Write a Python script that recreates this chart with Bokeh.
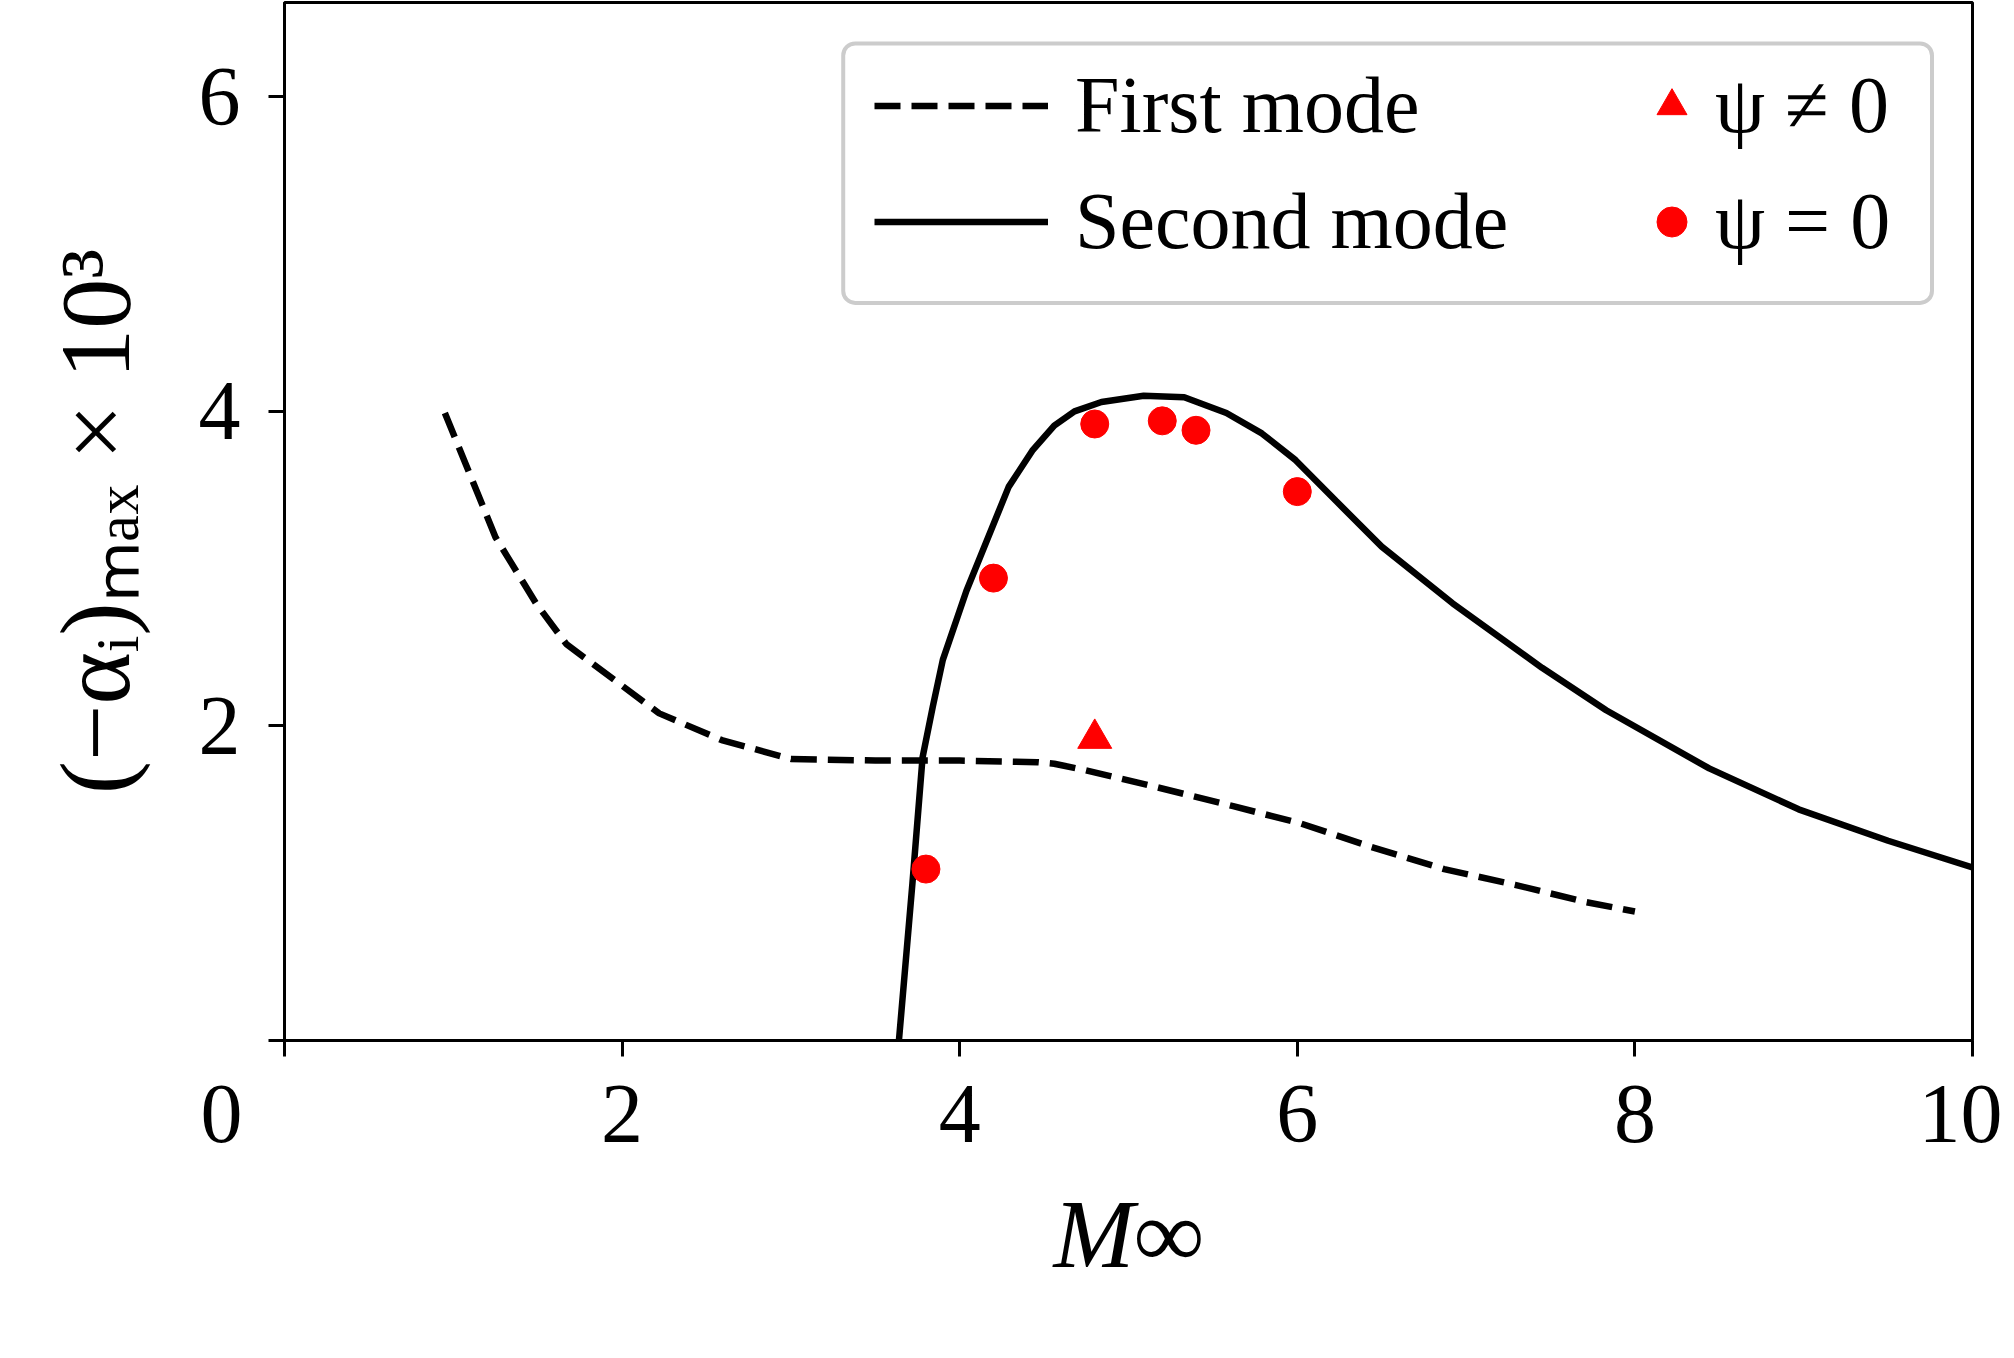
from bokeh.plotting import figure
from bokeh.models import Legend, LegendItem, FixedTicker, Range1d, BoxAnnotation
from bokeh.embed import file_html
from bokeh.resources import INLINE

# ---- data ----
first_x = [0.95, 1.25, 1.49, 1.67, 2.12, 2.22, 2.59, 3.0, 3.5, 4.0, 4.46, 4.56,
           4.74, 5.17, 5.62, 6.02, 6.44, 6.87, 7.29, 7.71, 8.0]
first_y = [3.99, 3.20, 2.78, 2.52, 2.16, 2.08, 1.91, 1.79, 1.78, 1.78, 1.77, 1.76,
           1.72, 1.61, 1.49, 1.38, 1.23, 1.09, 0.99, 0.88, 0.82]

second_x = [3.64, 3.72, 3.78, 3.84, 3.90, 4.04, 4.29, 4.43, 4.56, 4.68, 4.84, 5.09,
            5.33, 5.58, 5.79, 5.99, 6.23, 6.50, 6.92, 7.45, 7.83, 8.44, 8.97, 9.50, 10.0]
second_y = [0.0, 1.00, 1.80, 2.12, 2.42, 2.86, 3.52, 3.75, 3.91, 4.00, 4.06, 4.10,
            4.09, 3.99, 3.86, 3.69, 3.43, 3.14, 2.78, 2.37, 2.10, 1.73, 1.47, 1.27, 1.10]

psi_nonzero_x = [4.8]
psi_nonzero_y = [1.92]

psi_zero_x = [3.8, 4.2, 4.8, 5.2, 5.4, 6.0]
psi_zero_y = [1.09, 2.94, 3.92, 3.94, 3.88, 3.49]

x_ticks = [0, 2, 4, 6, 8, 10]
y_ticks = [0, 2, 4, 6]

FONT = "Liberation Serif"
NBSP = "\u00a0"

p = figure(width=2002, height=1350, output_backend="svg", toolbar_location=None,
           x_range=Range1d(0, 10), y_range=Range1d(0, 6.6),
           min_border_left=284, min_border_right=30, min_border_top=2,
           min_border_bottom=310)

p.xgrid.visible = False
p.ygrid.visible = False
p.outline_line_color = "black"
p.outline_line_width = 3
p.outline_line_alpha = 1.0

r_first = p.line(first_x, first_y, line_color="black", line_width=6.5, line_dash="26 11")
r_second = p.line(second_x, second_y, line_color="black", line_width=6.5)
r_tri = p.scatter(psi_nonzero_x, psi_nonzero_y, marker="triangle", size=34,
                  fill_color="red", line_color="red")
r_circ = p.scatter(psi_zero_x, psi_zero_y, marker="circle", size=28,
                   fill_color="red", line_color="red")

for ax in (p.xaxis[0], p.yaxis[0]):
    ax.axis_line_width = 3
    ax.major_tick_line_width = 3
    ax.major_tick_out = 16
    ax.major_tick_in = 0
    ax.minor_tick_out = 0
    ax.minor_tick_in = 0
    ax.major_label_text_font = FONT
    ax.major_label_text_font_size = "84px"
    ax.major_label_text_color = "black"
    ax.axis_label_text_font = FONT
    ax.axis_label_text_color = "black"

p.xaxis[0].major_label_standoff = 10
p.yaxis[0].major_label_standoff = 28
p.xaxis[0].axis_label_text_font_size = "97px"
p.yaxis[0].axis_label_text_font_size = "100px"

p.xaxis[0].ticker = FixedTicker(ticks=x_ticks)
p.yaxis[0].ticker = FixedTicker(ticks=y_ticks)
# the reference shows its "0" shifted to the left of the corner
p.xaxis[0].major_label_overrides = {0: "0" + NBSP * 6}
p.yaxis[0].major_label_overrides = {0: ""}
p.xaxis[0].axis_label = "M∞"
p.xaxis[0].axis_label_text_font_style = "italic"
p.xaxis[0].axis_label_standoff = 18
p.yaxis[0].axis_label = "(−αᵢ)ₘₐₓ × 10³"
p.yaxis[0].axis_label_text_font_style = "normal"
p.yaxis[0].axis_label_standoff = 45

# legend frame (shared by both legend columns)
box = BoxAnnotation(left=3.31, right=9.76, bottom=4.69, top=6.34,
                    fill_color="white", fill_alpha=1.0,
                    line_color="#cccccc", line_width=4, line_alpha=1.0)
if "border_radius" in BoxAnnotation.properties():
    box.border_radius = 12
p.add_layout(box)

def style_legend(lg, glyph_w, glyph_h, standoff):
    lg.label_text_font = FONT
    lg.label_text_font_size = "80px"
    lg.label_text_color = "black"
    lg.glyph_width = glyph_w
    lg.glyph_height = glyph_h
    lg.label_height = 90
    lg.label_standoff = standoff
    lg.spacing = 25
    lg.padding = 0
    lg.margin = 0
    lg.border_line_alpha = 0
    lg.background_fill_alpha = 0

legend_lines = Legend(items=[
    LegendItem(label="First mode", renderers=[r_first]),
    LegendItem(label="Second mode", renderers=[r_second]),
], location=(590, 773))
style_legend(legend_lines, 174, 75, 27)

legend_marks = Legend(items=[
    LegendItem(label="ψ ≠ 0", renderers=[r_tri]),
    LegendItem(label="ψ = 0", renderers=[r_circ]),
], location=(1350, 773))
style_legend(legend_marks, 75, 75, 6)

p.add_layout(legend_lines)
p.add_layout(legend_marks)

open("out.html", "w").write(file_html(p, INLINE))
